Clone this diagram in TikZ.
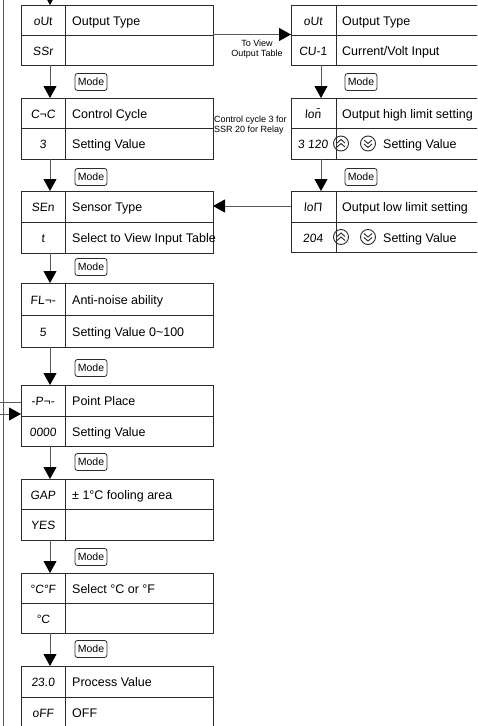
\documentclass[tikz,border=0pt]{standalone}
\usepackage{fontspec}
\setmainfont{Liberation Sans}
\newfontfamily\segfont[FakeSlant=0.08]{Liberation Sans}
\usetikzlibrary{arrows.meta}
\definecolor{ln}{HTML}{2B2B2B}
\definecolor{cn}{HTML}{5A5A5A}
\tikzset{
  boxst/.style={draw=ln, line width=1pt, anchor=north west, inner sep=0pt, outer sep=0pt},
  divst/.style={draw=ln, line width=1pt},
  codest/.style={font=\segfont\fontsize{12}{12}\selectfont, inner sep=0pt, anchor=base},
  txtst/.style={font=\fontsize{12.5}{14}\selectfont, inner sep=0pt, anchor=base west},
  smallst/.style={font=\fontsize{9}{10}\selectfont, inner sep=0pt},
  modest/.style={draw=ln, rounded corners=2.5pt, line width=0.8pt, font=\fontsize{10.5}{10.5}\selectfont, minimum width=32pt, minimum height=17pt, inner sep=0pt},
  conn/.style={draw=cn, line width=1pt},
  arr/.style={conn, -{Triangle[width=13pt,length=12pt,color=black]}},
  iconst/.style={draw=ln, line width=0.9pt}
}
\newcommand\lbox[8]{%
  \node[boxst, minimum width=192pt, minimum height={#4-#2}] (#1) at (21,#2) {};
  \draw[divst] ([xshift=44pt]#1.north west) -- ([xshift=44pt]#1.south west);
  \draw[divst] (#1.west |- 0,#3) -- (#1.east |- 0,#3);
  \node[codest] (#1a) at (43,{(#2+#3)/2+5}) {#5};
  \node[txtst] (#1b) at (72,{(#2+#3)/2+5}) {#6};
  \node[codest] (#1c) at (43,{(#3+#4)/2+5}) {#7};
  \node[txtst] (#1e) at (72,{(#3+#4)/2+5}) {#8};
}
\newcommand\rbox[8]{%
  \node[boxst, minimum width=200pt, minimum height={#4-#2}] (#1) at (291,#2) {};
  \draw[divst] ([xshift=45pt]#1.north west) -- ([xshift=45pt]#1.south west);
  \draw[divst] (#1.west |- 0,#3) -- (#1.east |- 0,#3);
  \node[codest] (#1a) at (313,{(#2+#3)/2+5}) {#5};
  \node[txtst] (#1b) at (342,{(#2+#3)/2+5}) {#6};
  \node[codest] (#1c) at (313,{(#3+#4)/2+5}) {#7};
  \node[txtst] (#1e) at (#8,{(#3+#4)/2+5}) {Setting Value};
}
\newcommand\updown[2]{%
  \draw[iconst] (341,#2) circle[radius=7.5pt];
  \draw[iconst] (337,#2-0.5) -- (341,#2-4) -- (345,#2-0.5);
  \draw[iconst] (337,#2+3.5) -- (341,#2) -- (345,#2+3.5);
  \draw[iconst] (368,#2) circle[radius=7.5pt];
  \draw[iconst] (364,#2+0.5) -- (368,#2+4) -- (372,#2+0.5);
  \draw[iconst] (364,#2-3.5) -- (368,#2) -- (372,#2-3.5);
}
\begin{document}
\begin{tikzpicture}[x=1pt,y=-1pt]
\useasboundingbox (0,0) rectangle (477,726);
\clip (0,0) rectangle (477,726);
\fill[white] (0,0) rectangle (477,726);

% left column
\lbox{b1}{5}{35}{65}{oUt}{Output Type}{SSr}{}
\lbox{b2}{98}{128}{159}{C¬C}{Control Cycle}{3}{Setting Value}
\lbox{b3}{191}{222}{253}{SEn}{Sensor Type}{t}{Select to View Input Table}
\lbox{b4}{283}{315}{347}{FL¬-}{Anti-noise ability}{5}{Setting Value 0\textasciitilde100}
\lbox{b5}{385}{416}{446}{-P¬-}{Point Place}{0000}{Setting Value}
\lbox{b6}{479}{509}{540}{GAP}{± 1°C fooling area}{YES}{}
\lbox{b7}{573}{603}{633}{°C°F}{Select °C or °F}{°C}{}
\lbox{b8}{666}{697}{728}{23.0}{Process Value}{oFF}{OFF}

% right column
\node[boxst, minimum width=200pt, minimum height=60pt] (r1) at (291,5) {};
\draw[divst] ([xshift=45pt]r1.north west) -- ([xshift=45pt]r1.south west);
\draw[divst] (r1.west |- 0,35) -- (r1.east |- 0,35);
\node[codest] (r1a) at (313,25) {oUt};
\node[txtst] (r1b) at (342,25) {Output Type};
\node[codest] (r1c) at (313,55) {CU-1};
\node[txtst] (r1e) at (342,55) {Current/Volt Input};

\rbox{r2}{98}{128}{159}{lo\={n}}{Output high limit setting}{3 120}{383}
\rbox{r3}{191}{222}{252}{loΠ}{Output low limit setting}{204}{383}
\updown{r2}{143.5}
\updown{r3}{237}

% vertical flow left
\coordinate (top) at (50,-12);
\draw[arr] (top) -- ([xshift=29pt]b1.north west);
\foreach \a/\b in {b1/b2,b2/b3,b3/b4,b4/b5,b5/b6,b6/b7,b7/b8}
  \draw[arr] ([xshift=29pt]\a.south west) -- ([xshift=29pt]\b.north west);
\foreach \n/\y in {1/82,2/177,3/267,4/368,5/462,6/557,7/649}
  \node[modest] (m\n) at (91,\y) {Mode};

% vertical flow right
\draw[arr] ([xshift=30pt]r1.south west) -- ([xshift=30pt]r2.north west);
\draw[arr] ([xshift=30pt]r2.south west) -- ([xshift=30pt]r3.north west);
\node[modest] (rm1) at (361,82) {Mode};
\node[modest] (rm2) at (361,177) {Mode};

% cross connectors
\draw[arr] (b1.east |- 0,34.5) -- (r1.west |- 0,34.5);
\node[smallst, align=center, anchor=north] (tv) at (257,40) {To View\\Output Table};
\node[smallst, align=left, anchor=north west] (cc) at (214,115.5) {Control cycle 3 for\\SSR 20 for Relay};
\draw[arr] (r3.west |- 0,206) -- (b3.east |- 0,206);

% left return lines
\coordinate (lt) at (3.5,-5);
\coordinate (lb) at (3.5,731);
\draw[conn] (lt) -- (lb);
\coordinate (p1) at (-5,402);
\coordinate (p2) at (-5,414);
\draw[conn] (p1) -- (b5.west |- p1);
\draw[arr] (p2) -- (b5.west |- p2);
\end{tikzpicture}
\end{document}
